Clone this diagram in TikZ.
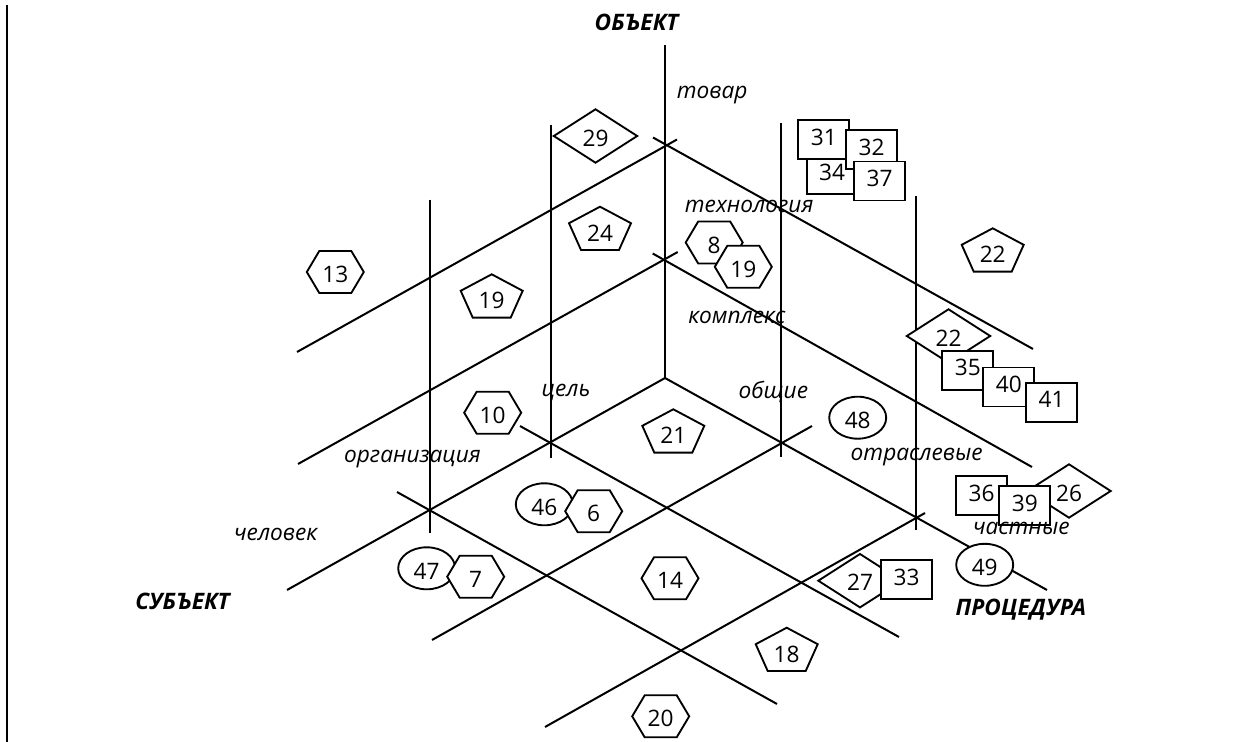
\documentclass[tikz,border=0pt]{standalone}
\usepackage{fontspec}
\setmainfont{Open Sans}
\begin{document}
\begin{tikzpicture}[x=0.75pt,y=-0.75pt,
  ln/.style={line width=1.5pt},
  shp/.style={draw, line width=1.4pt, fill=white, line join=miter},
  num/.style={font=\fontsize{17}{19}\selectfont, inner sep=0pt},
  lab/.style={font=\fontsize{17}{19}\selectfont\itshape, inner sep=0pt, anchor=base},
  ttl/.style={font=\fontsize{17}{19}\selectfont\bfseries\itshape, inner sep=0pt, anchor=base}]
\useasboundingbox (0,0) rectangle (1242,742);
\newcommand\hexa[4]{%
  \draw[shp] (#2-28.5,#3) -- (#2-16,#3-21) -- (#2+16,#3-21) -- (#2+28.5,#3) -- (#2+16,#3+21) -- (#2-16,#3+21) -- cycle;
  \node[num] (#1) at (#2,#3+2.5) {#4};}
\newcommand\penta[4]{%
  \draw[shp] (#2,#3-23.9) -- (#2+31,#3-7.4) -- (#2+19,#3+19.4) -- (#2-19,#3+19.4) -- (#2-31,#3-7.4) -- cycle;
  \node[num] (#1) at (#2,#3+2.5) {#4};}
\newcommand\diam[4]{%
  \draw[shp] (#2-41.7,#3) -- (#2,#3-26.7) -- (#2+41.7,#3) -- (#2,#3+26.7) -- cycle;
  \node[num] (#1) at (#2,#3+2) {#4};}
\newcommand\sqbox[4]{%
  \draw[shp] (#2,#3) rectangle ++(51,39);
  \node[num] (#1) at (#2+25.5,#3+17) {#4};}
\newcommand\ellip[4]{%
  \draw[shp] (#2,#3) ellipse [x radius=28.5, y radius=21];
  \node[num] (#1) at (#2,#3+3) {#4};}

% page border line
\draw[line width=2pt] (7,5) -- (7,742);

% origin and ticks
\coordinate (O) at (665,378);
\coordinate (V1) at (665,259.5);
\coordinate (V2) at (665,146);
\coordinate (L1) at (551,441.5);
\coordinate (L2) at (430,510);
\coordinate (R1) at (780.5,442.5);
\coordinate (R2) at (916,517.6);

% axes
\draw[ln] (665,45) -- (O);
\draw[ln] (O) -- (287,590);
\draw[ln] (O) -- (1047,590);

% lines through vertical ticks
\draw[ln] (677,139.5) -- (297,352);
\draw[ln] (653,137.5) -- (1033,349);
\draw[ln] (677.7,252) -- (298,464);
\draw[ln] (652.7,253.5) -- (1032,467);

% lines through left ticks
\draw[ln] (551,124.5) -- (551,458);
\draw[ln] (520,426) -- (899,637);
\draw[ln] (430,199.5) -- (430,533);
\draw[ln] (397,492) -- (777,704);

% lines through right ticks
\draw[ln] (780.5,123) -- (780.5,457);
\draw[ln] (812,426) -- (432,640);
\draw[ln] (916,196) -- (916,530);
\draw[ln] (925,513) -- (545,727);

% shapes
\diam{d29}{595.5}{136}{29}
\sqbox{s34}{806.7}{155.3}{34}
\sqbox{s31}{798.3}{120}{31}
\sqbox{s32}{846}{130}{32}
\sqbox{s37}{854}{161.5}{37}
\penta{p24}{600}{230.6}{24}
\hexa{h8}{714.2}{242.5}{8}
\hexa{h19b}{743.3}{266.8}{19}
\hexa{h13}{335.3}{272}{13}
\penta{p19}{491.7}{298.2}{19}
\penta{p22}{992.7}{252.2}{22}
\diam{d22}{948.5}{336}{22}
\sqbox{s35}{942.3}{350.7}{35}
\sqbox{s40}{983.3}{367.5}{40}
\sqbox{s41}{1026}{382.7}{41}
\hexa{h10}{492.7}{412.7}{10}
\penta{p21}{673.3}{433.2}{21}
\ellip{e48}{857.7}{417.7}{48}
\ellip{e46}{544.3}{504.3}{46}
\hexa{h6}{593.7}{511.2}{6}
\sqbox{s36}{956}{476}{36}
\diam{d26}{1069}{491}{26}
\sqbox{s39}{999.3}{486}{39}
\ellip{e47}{426.7}{568.3}{47}
\hexa{h7}{475.7}{576.7}{7}
\hexa{h14}{670}{578.3}{14}
\diam{d27}{860}{580.7}{27}
\sqbox{s33}{881}{560}{33}
\ellip{e49}{984.7}{564.8}{49}
\penta{p18}{786.7}{651.6}{18}
\hexa{h20}{660.7}{716.3}{20}

% labels
\node[ttl] (tObj) at (636.5,31) {ОБЪЕКТ};
\node[ttl] (tSub) at (182.5,609.3) {СУБЪЕКТ};
\node[ttl] (tProc) at (1020.8,615) {ПРОЦЕДУРА};
\node[lab] (lTov) at (712.2,98.3) {товар};
\node[lab] (lTech) at (749.2,212.3) {технология};
\node[lab] (lKomp) at (736.8,323.3) {комплекс};
\node[lab] (lCel) at (566,396.5) {цель};
\node[lab] (lObsh) at (773.3,398.3) {общие};
\node[lab] (lOrg) at (412.5,462.7) {организация};
\node[lab] (lOtr) at (916.7,460.7) {отраслевые};
\node[lab] (lChel) at (275.7,540) {человек};
\node[lab] (lChast) at (1021.3,534.3) {частные};
\end{tikzpicture}
\end{document}
